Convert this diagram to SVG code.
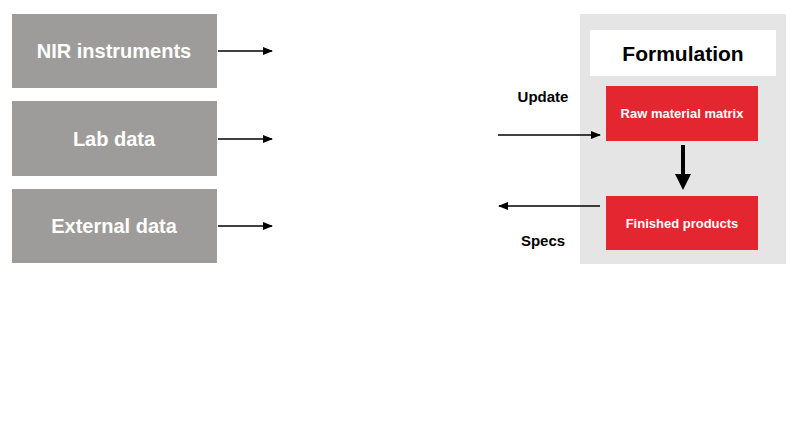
<svg xmlns="http://www.w3.org/2000/svg" width="800" height="428" viewBox="0 0 800 428">
<style>
text{font-family:"Liberation Sans",Arial,sans-serif;font-weight:bold;text-anchor:middle}
.g{fill:#9d9c9a}.gt{fill:#fff;font-size:20px}
.r{fill:#e3262f}.rt{fill:#fff;font-size:13px}
.l{stroke:#000;stroke-width:1.3;fill:none}
</style>
<defs>
<marker id="a" markerWidth="10" markerHeight="8" refX="9" refY="4" orient="auto" markerUnits="userSpaceOnUse"><path d="M0,0 L10,4 L0,8z"/></marker>
<marker id="b" markerWidth="16" markerHeight="16" refX="8" refY="14" orient="0" markerUnits="userSpaceOnUse"><path d="M0,0 L16,0 L8,16z"/></marker>
</defs>
<rect width="800" height="428" fill="#fff"/>
<g id="nir"><rect class="g" x="12" y="14" width="205" height="74"/><text class="gt" x="114" y="58">NIR instruments</text></g>
<g id="lab"><rect class="g" x="12" y="101" width="205" height="75"/><text class="gt" x="114" y="146">Lab data</text></g>
<g id="ext"><rect class="g" x="12" y="189" width="205" height="74"/><text class="gt" x="114" y="233">External data</text></g>
<g id="formulation"><rect x="580" y="14" width="206" height="250" fill="#e5e5e5"/><rect x="590" y="30" width="186" height="46" fill="#fff"/><text x="683" y="61" font-size="21" fill="#000">Formulation</text></g>
<g id="raw"><rect class="r" x="606" y="86" width="152" height="55"/><text class="rt" x="682" y="118">Raw material matrix</text></g>
<g id="fin"><rect class="r" x="606" y="196" width="152" height="54"/><text class="rt" x="682" y="228">Finished products</text></g>
<g id="connectors">
<line class="l" x1="218" y1="51" x2="272" y2="51" marker-end="url(#a)"/>
<line class="l" x1="218" y1="139" x2="272" y2="139" marker-end="url(#a)"/>
<line class="l" x1="218" y1="226" x2="272" y2="226" marker-end="url(#a)"/>
<line class="l" x1="498" y1="135" x2="600" y2="135" marker-end="url(#a)"/>
<line class="l" x1="600" y1="206" x2="499" y2="206" marker-end="url(#a)"/>
<line x1="683" y1="145" x2="683" y2="178" stroke="#000" stroke-width="4"/>
<path d="M675,174 L691,174 L683,190z"/>
<text x="543" y="102" font-size="15" fill="#000">Update</text>
<text x="543" y="246" font-size="15" fill="#000">Specs</text>
</g>
</svg>
